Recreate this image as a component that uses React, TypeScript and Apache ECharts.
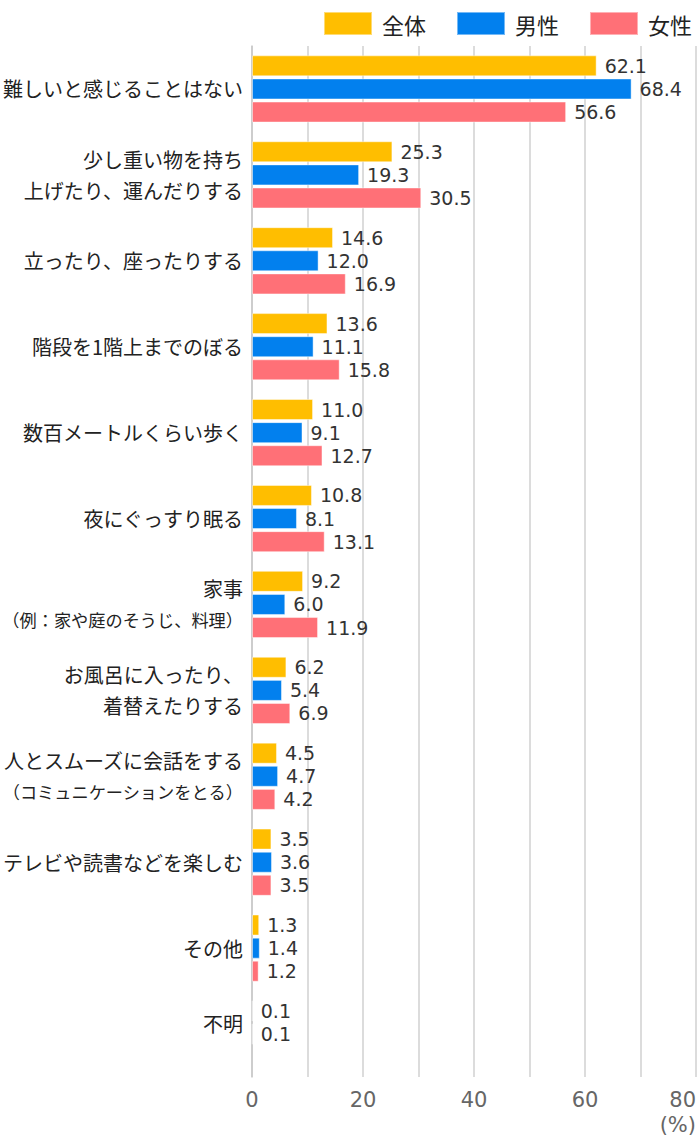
import React, { useEffect, useRef } from "react";
import * as echarts from "echarts";

const categories = [
  "難しいと感じることはない",
  "少し重い物を持ち\n上げたり、運んだりする",
  "立ったり、座ったりする",
  "階段を1階上までのぼる",
  "数百メートルくらい歩く",
  "夜にぐっすり眠る",
  "家事\n（例：家や庭のそうじ、料理）",
  "お風呂に入ったり、\n着替えたりする",
  "人とスムーズに会話をする\n（コミュニケーションをとる）",
  "テレビや読書などを楽しむ",
  "その他",
  "不明",
];
const seriesNames = ["全体", "男性", "女性"];
const totalValues = [62.1, 25.3, 14.6, 13.6, 11.0, 10.8, 9.2, 6.2, 4.5, 3.5, 1.3, 0.1];
const maleValues = [68.4, 19.3, 12.0, 11.1, 9.1, 8.1, 6.0, 5.4, 4.7, 3.6, 1.4, 0.1];
const femaleValues: (number | null)[] = [56.6, 30.5, 16.9, 15.8, 12.7, 13.1, 11.9, 6.9, 4.2, 3.5, 1.2, null];
const xTicks = [0, 20, 40, 60, 80];
const colors = ["#FFBE00", "#0280EE", "#FF7077"];

export default function App() {
  const ref = useRef<HTMLDivElement>(null);
  useEffect(() => {
    if (!ref.current) return;
    const chart = echarts.init(ref.current, null, { renderer: "svg" });
    const jp = "'Noto Sans CJK JP', 'Noto Sans', sans-serif";
    const num = "'DejaVu Sans', 'Noto Sans', sans-serif";
    const fmtCat = (v: string) => {
      if (v === "不明") return "{up|不明}";
      return v
        .split("\n")
        .map((line) => (line.startsWith("（") ? `{sm|${line}}` : `{n|${line}}`))
        .join("\n");
    };
    const makeSeries = (name: string, data: (number | null)[], i: number) => ({
      name,
      type: "bar",
      data,
      barWidth: 21,
      barGap: "10%",
      itemStyle: { color: colors[i], borderColor: "rgba(255,255,255,0.45)", borderWidth: 1 },
      label: {
        show: true,
        position: "right",
        distance: 8,
        color: "#333",
        fontSize: 19,
        lineHeight: 20,
        fontFamily: num,
        formatter: (p: any) => Number(p.value).toFixed(1),
      },
    });
    chart.setOption({
      animation: false,
      backgroundColor: "#fff",
      legend: {
        data: seriesNames,
        right: 3,
        top: 6,
        itemWidth: 48,
        itemHeight: 23,
        itemGap: 30,
        icon: "rect",
        textStyle: { fontSize: 22, color: "#222", fontFamily: jp, padding: [0, 0, 0, 5] },
      },
      grid: { left: 252, right: 4, top: 46, bottom: 69, containLabel: false, outerBoundsMode: "none" },
      xAxis: {
        type: "value",
        min: 0,
        max: 80,
        interval: 10,
        axisLine: { show: false },
        axisTick: { show: false },
        splitLine: { show: true, lineStyle: { color: "#d0d0d0", width: 1.5 } },
        axisLabel: {
          fontSize: 21,
          color: "#666",
          margin: 12,
          fontFamily: num,
          alignMaxLabel: "right",
          formatter: (v: number) => (xTicks.includes(v) ? String(v) : ""),
        },
      },
      yAxis: {
        type: "category",
        data: categories,
        inverse: true,
        axisLine: { show: true, lineStyle: { color: "#c8c8c8", width: 1.5 } },
        axisTick: { show: false },
        axisLabel: {
          margin: 9,
          color: "#222",
          fontFamily: jp,
          fontSize: 20,
          formatter: fmtCat,
          rich: {
            n: { fontSize: 20, lineHeight: 31, color: "#222", fontFamily: jp },
            sm: { fontSize: 17.2, lineHeight: 31, color: "#222", fontFamily: jp },
            up: { fontSize: 20, lineHeight: 24, color: "#222", fontFamily: jp, padding: [0, 0, 22, 0] },
          },
        },
      },
      graphic: [
        {
          type: "text",
          right: 4,
          top: 1114,
          style: { text: "(%)", fontSize: 21, fill: "#666", fontFamily: num },
        },
      ],
      series: [
        makeSeries(seriesNames[0], totalValues, 0),
        makeSeries(seriesNames[1], maleValues, 1),
        makeSeries(seriesNames[2], femaleValues, 2),
      ],
    });
    return () => chart.dispose();
  }, []);
  return <div ref={ref} style={{ position: "fixed", left: 0, top: 0, width: 700, height: 1146 }} />;
}
